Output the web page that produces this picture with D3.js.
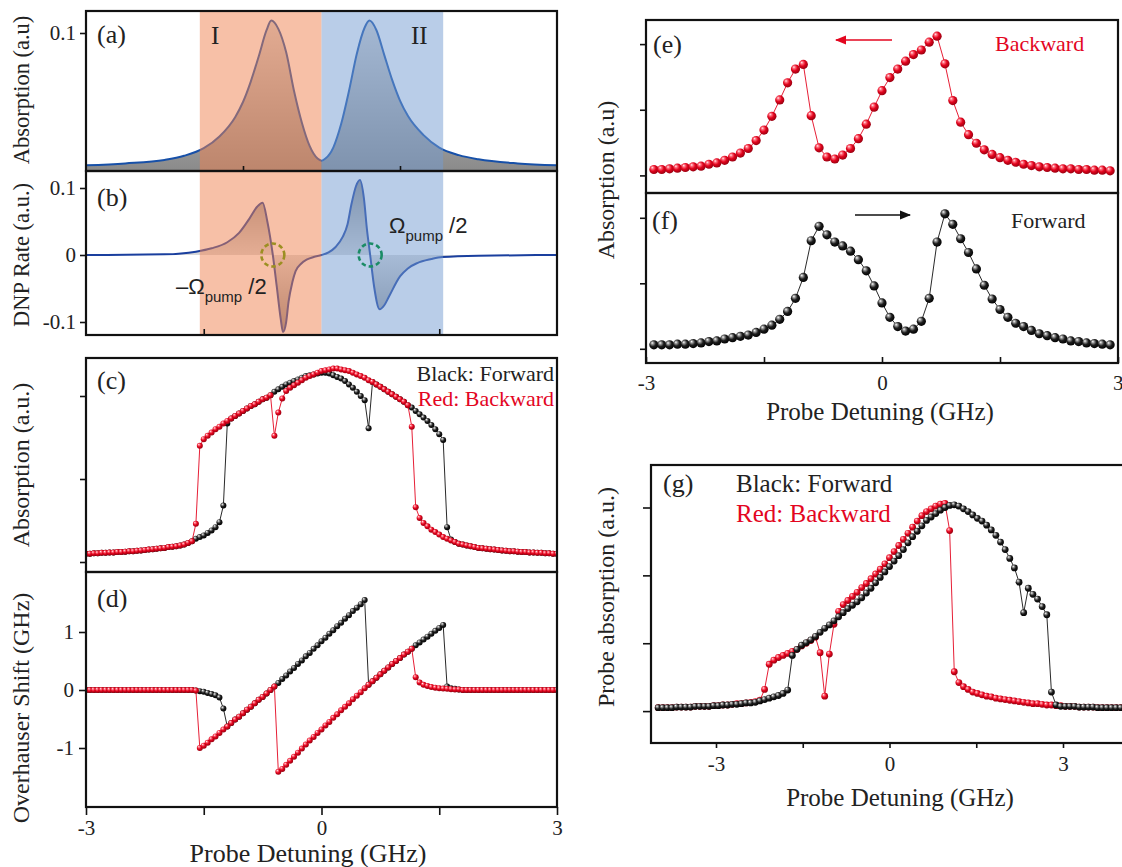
<!DOCTYPE html>
<html><head><meta charset="utf-8">
<script src="https://cdn.jsdelivr.net/npm/d3@7"></script>
<style>body{margin:0;background:#fff}svg{display:block}</style>
</head><body><svg id="chart" width="1122" height="867"></svg>
<script>
// ---------------- DATA ----------------
// (a) absorption, two Lorentzian-like peaks
const aDetuning = [-3,-2.5,-2,-1.75,-1.5,-1.3,-1.1,-1.0,-0.9,-0.8,-0.7,-0.64,-0.55,-0.45,-0.35,-0.25,-0.15,-0.05,0,0.05,0.15,0.25,0.35,0.45,0.55,0.61,0.7,0.8,0.9,1.0,1.1,1.3,1.5,1.75,2,2.5,3];
const aAbsorption = [0.0041,0.0055,0.008,0.011,0.0165,0.025,0.039,0.050,0.065,0.083,0.102,0.109,0.103,0.086,0.058,0.035,0.018,0.009,0.0075,0.009,0.017,0.034,0.058,0.085,0.104,0.109,0.102,0.084,0.066,0.051,0.040,0.026,0.017,0.0115,0.0085,0.0055,0.0041];
// (b) DNP rate
const bDetuning = [-3,-2,-1.6,-1.4,-1.2,-1.05,-0.92,-0.82,-0.75,-0.69,-0.62,-0.57,-0.52,-0.49,-0.45,-0.42,-0.37,-0.33,-0.26,-0.19,-0.1,0,0.09,0.18,0.27,0.33,0.38,0.44,0.49,0.54,0.58,0.62,0.67,0.74,0.8,0.86,1.0,1.1,1.22,1.4,1.54,2,3];
const bDnpRate = [0,0.001,0.005,0.01,0.019,0.033,0.054,0.072,0.078,0.05,0,-0.047,-0.095,-0.115,-0.1,-0.07,-0.04,-0.024,-0.013,-0.007,-0.003,0,0.004,0.012,0.027,0.045,0.075,0.103,0.112,0.085,0.037,0,-0.047,-0.081,-0.075,-0.062,-0.032,-0.02,-0.012,-0.006,-0.003,-0.001,0];
const regionBounds = [-1.55, 0, 1.55];
// (c),(d) sweep: -3 .. 3 GHz, step 0.05
const cdStart = -3, cdStep = 0.05, cdCount = 121;
const cForward = [0.10,0.10,0.105,0.105,0.11,0.11,0.115,0.115,0.12,0.12,0.125,0.13,0.13,0.135,0.14,0.145,0.15,0.155,0.16,0.165,0.17,0.18,0.185,0.19,0.20,0.21,0.23,0.25,
 0.28,0.30,0.32,0.35,0.38,0.42,0.48,0.68,1.67,1.73,
 1.76,1.79,1.82,1.85,1.88,1.90,1.93,1.96,1.98,2.01,
 2.05,2.08,2.11,2.14,2.16,2.18,2.20,2.22,2.24,2.25,
 2.26,2.27,2.28,2.28,2.27,2.25,2.23,2.21,2.18,2.14,
 2.10,2.05,2.00,1.95,1.61,2.17,2.14,2.11,2.08,2.05,
 2.02,1.99,1.96,1.93,1.89,1.86,1.82,1.78,1.74,1.70,
 1.65,1.60,1.54,1.47,0.42,0.27,0.24,0.22,0.21,0.20,
 0.19,0.18,0.17,0.165,0.16,0.155,0.15,0.145,0.14,0.135,
 0.13,0.13,0.125,0.12,0.12,0.115,0.115,0.11,0.11,0.105,
 0.105,0.10,0.10];
const cBackward = [0.10,0.10,0.105,0.105,0.11,0.11,0.115,0.115,0.12,0.12,0.125,0.13,0.13,0.135,0.14,0.145,0.15,0.155,0.16,0.165,0.17,0.18,0.185,0.19,0.20,0.21,0.23,0.25,
 0.46,1.40,1.48,1.52,1.56,1.60,1.63,1.67,1.70,1.73,
 1.76,1.79,1.82,1.85,1.88,1.90,1.93,1.96,1.98,2.01,
 1.52,1.80,1.97,2.06,2.10,2.13,2.16,2.19,2.22,2.24,
 2.26,2.28,2.30,2.31,2.32,2.33,2.33,2.32,2.31,2.30,
 2.28,2.26,2.24,2.22,2.19,2.17,2.14,2.11,2.08,2.05,
 2.02,1.99,1.96,1.93,1.89,1.63,0.66,0.53,0.47,0.43,
 0.39,0.36,0.33,0.30,0.28,0.26,0.24,0.22,0.21,0.20,
 0.19,0.18,0.17,0.165,0.16,0.155,0.15,0.145,0.14,0.135,
 0.13,0.13,0.125,0.12,0.12,0.115,0.115,0.11,0.11,0.105,
 0.105,0.10,0.10];
const dForward = [0,0,0,0,0,0,0,0,0,0,0,0,0,0,0,0,0,0,0,0,0,0,0,0,0,0,0,0,
 -0.01,-0.02,-0.03,-0.05,-0.07,-0.09,-0.13,-0.32,-0.63,
 -0.57,-0.51,-0.46,-0.40,-0.34,-0.29,-0.23,-0.17,-0.12,-0.06,0.00,0.06,
 0.12,0.19,0.25,0.32,0.38,0.45,0.51,0.58,0.64,0.71,
 0.77,0.84,0.90,0.97,1.03,1.10,1.16,1.23,1.29,1.36,
 1.42,1.48,1.55,
 0.09,0.15,0.21,0.27,0.33,0.39,0.45,0.50,0.55,0.61,0.66,0.71,
 0.77,0.82,0.87,0.92,0.97,1.02,1.07,1.12,
 0.06,0.03,0.02,0.01,
 0,0,0,0,0,0,0,0,0,0,0,0,0,0,0,0,0,0,0,0,0,0,0,0,0];
const dBackward = [0,0,0,0,0,0,0,0,0,0,0,0,0,0,0,0,0,0,0,0,0,0,0,0,0,0,0,0,
 -0.01,
 -1.00,-0.96,-0.91,-0.85,-0.80,-0.74,-0.68,-0.63,-0.57,-0.51,-0.46,-0.40,-0.34,-0.29,-0.23,-0.17,-0.12,-0.06,0.00,0.06,
 -1.41,-1.36,-1.29,-1.22,-1.15,-1.08,-1.01,-0.94,-0.87,-0.81,
 -0.74,-0.68,-0.61,-0.55,-0.48,-0.42,-0.35,-0.29,-0.23,-0.16,
 -0.10,-0.04,0.03,0.09,0.15,0.21,0.27,0.33,0.39,0.45,
 0.50,0.55,0.61,0.66,0.71,
 0.22,0.13,0.09,0.07,0.05,0.04,0.03,0.025,0.02,0.015,0.01,0.01,
 0,0,0,0,0,0,0,0,0,0,0,0,0,0,0,0,0,0,0,0,0,0,0,0,0];
// (e),(f) sweep: -2.9 .. 2.9 GHz, step 0.1
const efStart = -2.9, efStep = 0.1, efCount = 59;
const eBackward = [0.09,0.09,0.10,0.11,0.12,0.13,0.14,0.17,0.19,0.23,0.28,0.34,0.41,0.53,0.69,0.90,1.15,1.41,1.62,1.69,0.91,0.42,0.28,0.25,0.31,0.41,0.56,0.78,1.04,1.29,1.49,1.62,1.74,1.84,1.91,2.03,2.12,1.70,1.14,0.81,0.62,0.49,0.39,0.32,0.27,0.23,0.20,0.17,0.15,0.13,0.12,0.11,0.10,0.10,0.09,0.09,0.08,0.08,0.07];
const fForward = [0.06,0.06,0.06,0.07,0.07,0.08,0.09,0.11,0.12,0.15,0.17,0.19,0.21,0.25,0.30,0.36,0.45,0.57,0.77,1.09,1.65,1.87,1.74,1.63,1.57,1.49,1.36,1.19,0.96,0.70,0.48,0.34,0.27,0.30,0.42,0.77,1.63,2.06,1.90,1.68,1.47,1.22,0.97,0.76,0.60,0.48,0.39,0.34,0.28,0.23,0.20,0.17,0.15,0.12,0.11,0.09,0.08,0.07,0.06];
// (g) sweep: -4.0 .. 4.08 GHz, step 0.08
const gStart = -4.0, gStep = 0.08, gCount = 102;
const gForward = [0.05,0.05,0.05,0.05,0.06,0.06,0.06,0.06,0.07,0.07,
 0.07,0.07,0.08,0.08,0.09,0.09,0.10,0.10,0.11,0.12,
 0.12,0.13,0.15,0.17,0.19,0.21,0.23,0.26,0.31,0.82,
 0.91,0.97,1.01,1.05,1.10,1.16,1.22,1.27,1.33,1.39,
 1.45,1.51,1.56,1.61,1.67,1.74,1.81,1.89,1.97,2.05,
 2.13,2.21,2.29,2.38,2.48,2.57,2.65,2.73,2.81,2.86,
 2.91,2.96,3.00,3.03,3.04,3.02,2.98,2.94,2.89,2.84,
 2.80,2.74,2.67,2.59,2.49,2.38,2.25,2.11,1.90,1.45,
 1.81,1.72,1.65,1.54,1.42,0.28,0.09,0.07,0.07,0.07,
 0.07,0.06,0.06,0.06,0.06,0.05,0.05,0.05,0.05,0.05,
 0.05,0.05];
const gBackward = [0.05,0.05,0.05,0.05,0.06,0.06,0.06,0.06,0.07,0.07,
 0.07,0.07,0.08,0.08,0.09,0.09,0.10,0.11,0.11,0.12,
 0.13,0.14,0.16,0.32,0.69,0.75,0.79,0.82,0.85,0.88,
 0.91,0.96,1.00,1.04,1.09,0.86,0.22,0.84,1.28,1.47,
 1.57,1.63,1.69,1.75,1.82,1.88,1.95,2.02,2.09,2.17,
 2.26,2.35,2.44,2.53,2.62,2.71,2.80,2.88,2.94,2.98,
 3.02,3.05,3.06,2.66,0.58,0.42,0.36,0.32,0.28,0.26,
 0.24,0.22,0.21,0.19,0.18,0.17,0.16,0.15,0.14,0.13,
 0.12,0.11,0.11,0.10,0.09,0.09,0.08,0.08,0.07,0.07,
 0.07,0.06,0.06,0.06,0.06,0.05,0.05,0.05,0.05,0.05,
 0.05,0.05];
const xTicksMain = [-3,-1.5,0,1.5,3];
const xTickLabels = [-3,0,3];

// ---------------- DRAWING ----------------
const SERIF = "'Liberation Serif','Times New Roman',Times,serif";
const SANS = "'Liberation Sans',Arial,Helvetica,sans-serif";
const RED = "#e3061f";
const svg = d3.select("#chart");
const defs = svg.append("defs");
svg.append("rect").attr("width",1122).attr("height",867).attr("fill","#fff");

function ball(id, stops){
  const g = defs.append("radialGradient").attr("id",id).attr("cx","42%").attr("cy","40%").attr("r","62%").attr("fx","32%").attr("fy","28%");
  stops.forEach(([o,c])=>g.append("stop").attr("offset",o).attr("stop-color",c));
}
ball("ballK",[[0,"#ffffff"],[0.22,"#9a9a9a"],[0.55,"#1e1e1e"],[1,"#000"]]);
ball("ballR",[[0,"#fff2f2"],[0.22,"#ff7080"],[0.55,"#e2041d"],[1,"#950010"]]);
function linGrad(id,y1,y2,stops){
  const g = defs.append("linearGradient").attr("id",id).attr("gradientUnits","userSpaceOnUse")
    .attr("x1",0).attr("x2",0).attr("y1",y1).attr("y2",y2);
  stops.forEach(([o,c])=>g.append("stop").attr("offset",o).attr("stop-color",c));
}
function clipRect(id,x0,y0,x1,y1){
  defs.append("clipPath").attr("id",id).append("rect").attr("x",x0).attr("y",y0).attr("width",x1-x0).attr("height",y1-y0);
}
function frame(x0,y0,x1,y1){
  svg.append("rect").attr("x",x0).attr("y",y0).attr("width",x1-x0).attr("height",y1-y0)
    .attr("fill","none").attr("stroke","#111").attr("stroke-width",2.2);
}
function styleAxis(g,size){
  g.select(".domain").remove();
  g.selectAll(".tick line").attr("stroke","#111").attr("stroke-width",1.6);
  g.selectAll(".tick text").attr("font-family",SERIF).attr("font-size",size).attr("fill","#222");
  return g;
}
const fmt = d => d===0 ? "0" : (d<0?"-":"") + Math.abs(d);
function text(x,y,s,size,opt={}){
  const t = svg.append("text").attr("x",x).attr("y",y).text(s)
    .attr("font-family",opt.font||SERIF).attr("font-size",size).attr("fill",opt.fill||"#222")
    .attr("text-anchor",opt.anchor||"start");
  if(opt.rotate) t.attr("transform",`rotate(-90,${x},${y})`).attr("dominant-baseline","central");
  return t;
}
function dots(g, xs, ys, xS, yS, color, grad, r){
  const pts = xs.map((x,i)=>({x:x, y:ys[i]}));
  g.append("path").datum(pts).attr("d", d3.line().x(d=>xS(d.x)).y(d=>yS(d.y)))
    .attr("fill","none").attr("stroke",color).attr("stroke-width",0.9);
  g.selectAll(null).data(pts).join("circle")
    .attr("cx",d=>xS(d.x)).attr("cy",d=>yS(d.y)).attr("r",r).attr("fill",`url(#${grad})`);
}
const sweep = (s,st,n) => d3.range(n).map(i => +(s + st*i).toFixed(3));
const cdX = sweep(cdStart, cdStep, cdCount);
const efX = sweep(efStart, efStep, efCount);
const gX = sweep(gStart, gStep, gCount);

// ===== LEFT COLUMN =====
const L0 = 86, L1 = 557;
const xL = d3.scaleLinear().domain([-3,3]).range([L0,L1]);
const A = {top:11, bot:171}, B = {top:171, bot:335}, C = {top:358, bot:572}, D = {top:572, bot:807};
const yA = d3.scaleLinear().domain([0,0.1]).range([171,33]);
const yB = d3.scaleLinear().domain([-0.1,0.1]).range([322,188]);
const yC = d3.scaleLinear().domain([0,2]).range([562,396]);
const yD = d3.scaleLinear().domain([-1,1]).range([748,632]);

linGrad("gA", 19, 171, [[0,"#d6d6d6"],[1,"#8a8a8a"]]);
linGrad("gB", 179, 333, [[0,"#8c8c8c"],[0.5,"#dadada"],[1,"#8c8c8c"]]);
clipRect("clipA", L0, A.top, L1, A.bot);
clipRect("clipB", L0, B.top, L1, B.bot);
clipRect("clipC", L0, C.top, L1, C.bot);
clipRect("clipD", L0, D.top, L1, D.bot);

// (a)
const gA = svg.append("g").attr("clip-path","url(#clipA)");
const aPts = aDetuning.map((x,i)=>({x, y:aAbsorption[i]}));
gA.append("path").datum(aPts).attr("fill","url(#gA)")
  .attr("d", d3.area().x(d=>xL(d.x)).y0(yA(0)).y1(d=>yA(d.y)).curve(d3.curveMonotoneX));
gA.append("path").datum(aPts).attr("fill","none").attr("stroke","#1750a8").attr("stroke-width",2)
  .attr("d", d3.line().x(d=>xL(d.x)).y(d=>yA(d.y)).curve(d3.curveMonotoneX));
// (b)
const gB = svg.append("g").attr("clip-path","url(#clipB)");
const bPts = bDetuning.map((x,i)=>({x, y:bDnpRate[i]}));
gB.append("path").datum(bPts).attr("fill","url(#gB)")
  .attr("d", d3.area().x(d=>xL(d.x)).y0(yB(0)).y1(d=>yB(d.y)).curve(d3.curveMonotoneX));
gB.append("path").datum(bPts).attr("fill","none").attr("stroke","#1a3f9e").attr("stroke-width",2)
  .attr("d", d3.line().x(d=>xL(d.x)).y(d=>yB(d.y)).curve(d3.curveMonotoneX));
// overlays I and II
svg.append("rect").attr("x",xL(regionBounds[0])).attr("y",A.top).attr("width",xL(regionBounds[1])-xL(regionBounds[0]))
  .attr("height",B.bot-A.top).attr("fill","rgb(240,130,80)").attr("fill-opacity",0.5);
svg.append("rect").attr("x",xL(regionBounds[1])).attr("y",A.top).attr("width",xL(regionBounds[2])-xL(regionBounds[1]))
  .attr("height",B.bot-A.top).attr("fill","rgb(115,155,210)").attr("fill-opacity",0.5);
// dashed circles
svg.append("circle").attr("cx",xL(-0.62)).attr("cy",yB(0)).attr("r",11.5).attr("fill","none")
  .attr("stroke","#9c8f22").attr("stroke-width",2.6).attr("stroke-dasharray","4.5,3");
svg.append("circle").attr("cx",xL(0.62)).attr("cy",yB(0)).attr("r",11.5).attr("fill","none")
  .attr("stroke","#1b8c66").attr("stroke-width",2.6).attr("stroke-dasharray","4.5,3");
function omega(x,y,prefix){
  const t = svg.append("text").attr("x",x).attr("y",y).attr("font-family",SANS).attr("font-size",22).attr("fill","#222");
  t.append("tspan").text(prefix+"Ω");
  t.append("tspan").attr("font-size",15).attr("dy",8).text("pump");
  t.append("tspan").attr("dy",-8).text(" /2");
}
omega(176, 294, "–");
omega(389, 233, "");

// (c)
const gC = svg.append("g").attr("clip-path","url(#clipC)");
dots(gC, cdX, cForward, xL, yC, "#111", "ballK", 3);
dots(gC, cdX, cBackward, xL, yC, RED, "ballR", 3);
// (d)
const gD = svg.append("g").attr("clip-path","url(#clipD)");
dots(gD, cdX, dForward, xL, yD, "#111", "ballK", 3);
dots(gD, cdX, dBackward, xL, yD, RED, "ballR", 3);

// frames + axes left
frame(L0,A.top,L1,A.bot); frame(L0,B.top,L1,B.bot); frame(L0,C.top,L1,C.bot); frame(L0,D.top,L1,D.bot);
styleAxis(svg.append("g").attr("transform",`translate(${L0},0)`)
  .call(d3.axisLeft(yA).tickValues([0.1]).tickSize(6).tickPadding(4).tickFormat(fmt)), 21);
styleAxis(svg.append("g").attr("transform",`translate(0,${A.bot})`)
  .call(d3.axisBottom(xL).tickValues([-1,1]).tickSize(-5).tickFormat("")), 21);
styleAxis(svg.append("g").attr("transform",`translate(${L0},0)`)
  .call(d3.axisLeft(yB).tickValues([0.1,0,-0.1]).tickSize(6).tickPadding(4).tickFormat(fmt)), 21);
styleAxis(svg.append("g").attr("transform",`translate(0,${B.bot})`)
  .call(d3.axisBottom(xL).tickValues([-1.5,1.5]).tickSize(-6).tickFormat("")), 21);
styleAxis(svg.append("g").attr("transform",`translate(${L0},0)`)
  .call(d3.axisLeft(yC).tickValues([0,1,2]).tickSize(6).tickFormat("")), 21);
styleAxis(svg.append("g").attr("transform",`translate(${L0},0)`)
  .call(d3.axisLeft(yD).tickValues([-1,0,1]).tickSize(7).tickPadding(5).tickFormat(fmt)), 21);
styleAxis(svg.append("g").attr("transform",`translate(0,${D.bot})`)
  .call(d3.axisBottom(xL).tickValues(xTicksMain).tickSize(8).tickPadding(5)
  .tickFormat(d => xTickLabels.includes(d) ? fmt(d) : "")), 21);

// texts left
text(97, 43, "(a)", 26);
text(211, 44, "I", 25);
text(411, 44, "II", 25);
text(97, 206, "(b)", 26);
text(97, 389, "(c)", 26);
text(554, 381, "Black: Forward", 22, {anchor:"end"});
text(554, 406, "Red: Backward", 22, {anchor:"end", fill:RED});
text(97, 607, "(d)", 26);
text(21, 90, "Absorption (a.u)", 22.5, {anchor:"middle", rotate:true});
text(21, 255, "DNP Rate (a.u.)", 22.5, {anchor:"middle", rotate:true});
text(21, 465, "Absorption (a.u.)", 24, {anchor:"middle", rotate:true});
text(21, 708, "Overhauser Shift (GHz)", 24, {anchor:"middle", rotate:true});
text(308, 862, "Probe Detuning (GHz)", 26, {anchor:"middle"});

// ===== RIGHT COLUMN =====
const R0 = 646, R1 = 1118;
const xR = d3.scaleLinear().domain([-3,3]).range([R0,R1]);
const E = {top:20, bot:193}, F = {top:193, bot:363};
const yE = d3.scaleLinear().domain([0,2]).range([175.4,44.1]);
const yF = d3.scaleLinear().domain([0,2]).range([348.8,217.8]);
clipRect("clipE", R0, E.top, R1, E.bot);
clipRect("clipF", R0, F.top, R1, F.bot);
const gE = svg.append("g").attr("clip-path","url(#clipE)");
dots(gE, efX, eBackward, xR, yE, RED, "ballR", 4.6);
const gF = svg.append("g").attr("clip-path","url(#clipF)");
dots(gF, efX, fForward, xR, yF, "#111", "ballK", 4.6);
frame(R0,E.top,R1,E.bot); frame(R0,F.top,R1,F.bot);
styleAxis(svg.append("g").attr("transform",`translate(${R0},0)`)
  .call(d3.axisLeft(yE).tickValues([0,1,2]).tickSize(6).tickFormat("")), 21);
styleAxis(svg.append("g").attr("transform",`translate(${R0},0)`)
  .call(d3.axisLeft(yF).tickValues([0,1,2]).tickSize(6).tickFormat("")), 21);
const fAxis = styleAxis(svg.append("g").attr("transform",`translate(0,${F.bot})`)
  .call(d3.axisBottom(xR).tickValues(xTicksMain).tickSizeInner(-6).tickSizeOuter(0).tickPadding(12)
  .tickFormat(d => xTickLabels.includes(d) ? fmt(d) : "")), 21);
fAxis.selectAll(".tick text").filter(d => d === 3).attr("text-anchor","end").attr("dx", 5);
// arrows
defs.append("marker").attr("id","headR").attr("viewBox","0 0 10 10").attr("refX",9).attr("refY",5)
  .attr("markerWidth",7).attr("markerHeight",7).attr("orient","auto")
  .append("path").attr("d","M0,1 L10,5 L0,9 Z").attr("fill",RED);
defs.append("marker").attr("id","headK").attr("viewBox","0 0 10 10").attr("refX",9).attr("refY",5)
  .attr("markerWidth",7).attr("markerHeight",7).attr("orient","auto")
  .append("path").attr("d","M0,1 L10,5 L0,9 Z").attr("fill","#111");
svg.append("line").attr("x1",892).attr("y1",40).attr("x2",836).attr("y2",40)
  .attr("stroke",RED).attr("stroke-width",1.6).attr("marker-end","url(#headR)");
svg.append("line").attr("x1",855).attr("y1",215).attr("x2",910).attr("y2",215)
  .attr("stroke","#111").attr("stroke-width",1.6).attr("marker-end","url(#headK)");
text(653, 53, "(e)", 26);
text(995, 51, "Backward", 22, {fill:RED});
text(652, 229, "(f)", 26);
text(1011, 228, "Forward", 22);
text(606, 180, "Absorption (a.u)", 24, {anchor:"middle", rotate:true});
text(880, 420, "Probe Detuning (GHz)", 25, {anchor:"middle"});

// (g)
const G0 = 651, G1 = 1140;
const Gy = {top:465, bot:743};
const xG = d3.scaleLinear().domain([-3,3]).range([716,1063]);
const yG = d3.scaleLinear().domain([0,3]).range([711.1,507.5]);
clipRect("clipG", G0, Gy.top, G1, Gy.bot);
const gG = svg.append("g").attr("clip-path","url(#clipG)");
dots(gG, gX, gBackward, xG, yG, RED, "ballR", 3.4);
dots(gG, gX, gForward, xG, yG, "#111", "ballK", 3.4);
frame(G0,Gy.top,G1,Gy.bot);
styleAxis(svg.append("g").attr("transform",`translate(${G0},0)`)
  .call(d3.axisLeft(yG).tickValues([0,1,2,3]).tickSize(8).tickFormat("")), 21);
styleAxis(svg.append("g").attr("transform",`translate(0,${Gy.bot})`)
  .call(d3.axisBottom(xG).tickValues(xTicksMain).tickSize(5).tickPadding(8)
  .tickFormat(d => xTickLabels.includes(d) ? fmt(d) : "")), 21);
text(663, 492, "(g)", 26);
text(736, 492, "Black: Forward", 25);
text(736, 522, "Red: Backward", 25, {fill:RED});
text(606, 597, "Probe absorption (a.u.)", 24, {anchor:"middle", rotate:true});
text(900, 806, "Probe Detuning (GHz)", 25, {anchor:"middle"});
</script></body></html>
